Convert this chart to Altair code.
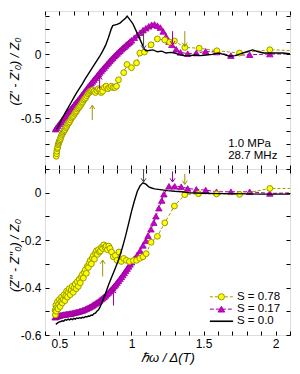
import json
import altair as alt
import pandas as pd

FONT = "Liberation Sans"
OLIVE = "#999900"
YELLOW = "#ffff00"
PURPLE = "#990099"
MAGENTA = "#cc00cc"
ARROW_BLACK = "#444444"

labels = ["S = 0.78", "S = 0.17", "S = 0.0"]

# ---------------- axes / ticks ----------------
X_DOMAIN = [0.4, 2.1]
TOP_DOMAIN = [-0.9, 0.34]
BOT_DOMAIN = [-0.6, 0.1]
x_ticks = [0.4, 0.5, 0.6, 0.7, 0.8, 0.9, 1.0, 1.1, 1.2, 1.3, 1.4, 1.5, 1.6, 1.7, 1.8, 1.9, 2.0, 2.1]
x_tick_labels = [0.5, 1.0, 1.5, 2.0]
top_y_ticks = [-0.9, -0.8, -0.7, -0.6, -0.5, -0.4, -0.3, -0.2, -0.1, 0.0, 0.1, 0.2, 0.3]
top_y_labels = [0.0, -0.5]
bot_y_ticks = [-0.6, -0.5, -0.4, -0.3, -0.2, -0.1, 0.0, 0.1]
bot_y_labels = [0.0, -0.2, -0.4, -0.6]

# ---------------- top panel: (Z' - Z'0)/Z0 ----------------
top78_x = [0.478, 0.480, 0.482, 0.485, 0.488, 0.491, 0.494, 0.497, 0.500, 0.504, 0.508, 0.512, 0.517, 0.522,
           0.527, 0.533, 0.539, 0.545, 0.551, 0.557, 0.563, 0.570, 0.577, 0.584, 0.591, 0.598, 0.605, 0.612,
           0.619, 0.626, 0.633, 0.640, 0.647, 0.654, 0.661, 0.668, 0.675, 0.682, 0.690, 0.698, 0.706, 0.714,
           0.722, 0.731, 0.740, 0.750, 0.760, 0.770, 0.780, 0.790, 0.800, 0.812, 0.824, 0.836, 0.848, 0.860,
           0.872, 0.884, 0.896, 0.910, 0.946, 0.969, 1.000, 1.035, 1.058, 1.090, 1.136, 1.180, 1.231, 1.265,
           1.298, 1.370, 1.470, 1.593, 1.750, 1.960, 2.150]
top78_y = [-0.80, -0.78, -0.76, -0.74, -0.73, -0.71, -0.70, -0.69, -0.68, -0.67, -0.66, -0.645, -0.63, -0.62,
           -0.61, -0.60, -0.59, -0.575, -0.565, -0.55, -0.54, -0.53, -0.515, -0.50, -0.49, -0.48, -0.465, -0.455,
           -0.445, -0.43, -0.42, -0.41, -0.40, -0.385, -0.375, -0.36, -0.35, -0.34, -0.325, -0.31, -0.30, -0.29,
           -0.285, -0.28, -0.29, -0.30, -0.285, -0.27, -0.28, -0.30, -0.29, -0.26, -0.25, -0.27, -0.26, -0.25,
           -0.26, -0.26, -0.25, -0.20, -0.144, -0.08, -0.105, -0.067, 0.01, 0.018, 0.075, 0.121, 0.113, 0.095,
           0.105, 0.054, 0.048, 0.028, 0.01, 0.036, 0.028]

top17_x = [0.473, 0.48, 0.49, 0.50, 0.51, 0.52, 0.53, 0.54, 0.55, 0.56, 0.57, 0.58, 0.59, 0.60, 0.61, 0.62,
           0.63, 0.64, 0.65, 0.66, 0.67, 0.68, 0.69, 0.70, 0.71, 0.72, 0.73, 0.74, 0.75, 0.76, 0.77, 0.78, 0.79,
           0.80, 0.81, 0.82, 0.83, 0.84, 0.85, 0.86, 0.87, 0.88, 0.89, 0.90, 0.91, 0.92, 0.93, 0.94, 0.95, 0.96,
           0.97, 0.98, 0.99, 1.00, 1.02, 1.04, 1.06, 1.08, 1.10, 1.12, 1.14, 1.16, 1.18, 1.20, 1.22, 1.24, 1.26,
           1.28, 1.31, 1.34, 1.39, 1.45, 1.515, 1.59, 1.69, 1.82, 1.96, 2.15]
top17_y = [-0.587, -0.575, -0.56, -0.545, -0.53, -0.515, -0.50, -0.485, -0.47, -0.456, -0.442, -0.428, -0.414,
           -0.40, -0.386, -0.372, -0.358, -0.344, -0.329, -0.314, -0.299, -0.284, -0.269, -0.254, -0.240, -0.226,
           -0.212, -0.198, -0.184, -0.17, -0.156, -0.142, -0.129, -0.116, -0.103, -0.09, -0.077, -0.064, -0.051,
           -0.039, -0.027, -0.015, -0.004, 0.007, 0.018, 0.029, 0.04, 0.05, 0.06, 0.07, 0.08, 0.09, 0.10, 0.11,
           0.13, 0.15, 0.17, 0.19, 0.205, 0.22, 0.232, 0.235, 0.225, 0.21, 0.18, 0.14, 0.10, 0.075, 0.04, 0.015,
           0.005, 0.01, 0.023, 0.018, -0.01, -0.003, 0.002, 0.003]

top00_x = [0.48, 0.50, 0.52, 0.54, 0.56, 0.58, 0.60, 0.62, 0.64, 0.66, 0.68, 0.70, 0.72, 0.74, 0.76, 0.78, 0.80,
           0.82, 0.84, 0.86, 0.87, 0.90, 0.92, 0.94, 0.96, 0.97, 0.99, 1.01, 1.03, 1.05, 1.07, 1.09, 1.10, 1.12,
           1.15, 1.18, 1.21, 1.24, 1.27, 1.30, 1.33, 1.36, 1.40, 1.44, 1.48, 1.52, 1.56, 1.60, 1.64, 1.68, 1.72,
           1.76, 1.80, 1.84, 1.88, 1.92, 1.96, 2.00, 2.05, 2.10]
top00_y = [-0.59, -0.55, -0.50, -0.46, -0.42, -0.38, -0.34, -0.30, -0.265, -0.23, -0.19, -0.155, -0.12, -0.085,
           -0.05, -0.015, 0.025, 0.07, 0.13, 0.20, 0.225, 0.235, 0.245, 0.265, 0.285, 0.30, 0.27, 0.24, 0.19,
           0.14, 0.09, 0.04, 0.028, 0.03, 0.035, 0.02, 0.025, 0.01, 0.015, 0.01, 0.0, -0.01, -0.01, -0.005,
           -0.01, -0.005, 0.0, 0.01, 0.0, -0.015, -0.01, 0.005, 0.02, 0.035, 0.02, 0.01, 0.01, 0.01, 0.01, 0.005]

# arrows (x, tail y, tip y, series)
top_arrow_x = [0.728, 0.779, 1.084, 1.285, 1.37]
top_arrow_tail = [-0.515, -0.272, 0.19, 0.182, 0.182]
top_arrow_tip = [-0.40, -0.169, 0.04, 0.075, 0.062]
top_arrow_s = ["S = 0.78", "S = 0.17", "S = 0.0", "S = 0.17", "S = 0.78"]

ann_text = ["1.0 MPa", "28.7 MHz"]
ann_x = [1.671, 1.671]
ann_y = [-0.731, -0.823]

# ---------------- bottom panel: (Z'' - Z''0)/Z0 ----------------
bot78_x = [0.470, 0.472, 0.475, 0.478, 0.482, 0.486, 0.490, 0.495, 0.500, 0.505, 0.510, 0.515, 0.520, 0.526,
           0.532, 0.538, 0.544, 0.550, 0.556, 0.562, 0.568, 0.575, 0.582, 0.589, 0.596, 0.603, 0.610, 0.617,
           0.624, 0.631, 0.638, 0.645, 0.652, 0.659, 0.666, 0.673, 0.680, 0.687, 0.694, 0.701, 0.708, 0.715,
           0.722, 0.729, 0.736, 0.743, 0.750, 0.757, 0.764, 0.771, 0.778, 0.785, 0.792, 0.800, 0.808, 0.816,
           0.824, 0.833, 0.842, 0.851, 0.862, 0.874, 0.888, 0.900, 0.913, 0.930, 0.946, 0.965, 0.985, 1.013,
           1.035, 1.058, 1.080, 1.102, 1.136, 1.180, 1.231, 1.298, 1.370, 1.465, 1.590, 1.750, 1.960, 2.150]
bot78_y = [-0.495, -0.515, -0.475, -0.50, -0.485, -0.46, -0.49, -0.47, -0.45, -0.48, -0.46, -0.44, -0.465,
           -0.45, -0.43, -0.455, -0.435, -0.415, -0.44, -0.42, -0.405, -0.43, -0.41, -0.395, -0.42, -0.40,
           -0.385, -0.405, -0.375, -0.395, -0.365, -0.38, -0.355, -0.345, -0.36, -0.335, -0.325, -0.34, -0.31,
           -0.315, -0.295, -0.285, -0.30, -0.275, -0.265, -0.28, -0.255, -0.245, -0.26, -0.24, -0.25, -0.245,
           -0.23, -0.235, -0.22, -0.23, -0.225, -0.24, -0.225, -0.235, -0.25, -0.27, -0.265, -0.285, -0.25,
           -0.29, -0.277, -0.285, -0.29, -0.286, -0.285, -0.277, -0.27, -0.257, -0.209, -0.184, -0.127, -0.056,
           -0.008, -0.004, -0.005, -0.007, 0.018, 0.018]

bot17_x = [0.47, 0.48, 0.49, 0.50, 0.51, 0.52, 0.53, 0.54, 0.55, 0.56, 0.57, 0.58, 0.59, 0.60, 0.61, 0.62, 0.63,
           0.64, 0.65, 0.66, 0.67, 0.68, 0.69, 0.70, 0.71, 0.72, 0.73, 0.74, 0.75, 0.76, 0.77, 0.78, 0.79, 0.80,
           0.81, 0.82, 0.83, 0.84, 0.85, 0.86, 0.87, 0.88, 0.89, 0.90, 0.91, 0.92, 0.93, 0.94, 0.95, 0.96, 0.97,
           0.98, 0.99, 1.00, 1.02, 1.04, 1.06, 1.08, 1.10, 1.115, 1.135, 1.155, 1.17, 1.19, 1.21, 1.225, 1.26,
           1.30, 1.345, 1.39, 1.45, 1.515, 1.59, 1.69, 1.82, 1.96, 2.15]
bot17_y = [-0.525, -0.522, -0.52, -0.518, -0.516, -0.515, -0.514, -0.513, -0.512, -0.511, -0.51, -0.509,
           -0.508, -0.506, -0.505, -0.503, -0.502, -0.50, -0.498, -0.496, -0.494, -0.491, -0.488, -0.485,
           -0.482, -0.479, -0.475, -0.471, -0.467, -0.463, -0.459, -0.454, -0.449, -0.444, -0.439, -0.433,
           -0.427, -0.421, -0.415, -0.408, -0.401, -0.394, -0.387, -0.379, -0.371, -0.363, -0.355, -0.347,
           -0.338, -0.329, -0.32, -0.311, -0.302, -0.293, -0.278, -0.262, -0.244, -0.222, -0.202, -0.181,
           -0.154, -0.126, -0.099, -0.065, -0.033, -0.006, 0.027, 0.027, 0.025, 0.018, 0.014, 0.011, 0.004,
           0.004, 0.004, -0.003, 0.0]

bot00_x = [0.475, 0.49, 0.50, 0.51, 0.52, 0.53, 0.54, 0.55, 0.56, 0.57, 0.58, 0.59, 0.60, 0.61, 0.62, 0.63, 0.64,
           0.65, 0.66, 0.67, 0.68, 0.69, 0.70, 0.71, 0.72, 0.73, 0.74, 0.75, 0.76, 0.77, 0.78, 0.79, 0.80, 0.82,
           0.84, 0.86, 0.88, 0.90, 0.92, 0.94, 0.96, 0.98, 1.00, 1.02, 1.04, 1.06, 1.08, 1.10, 1.12, 1.14, 1.16,
           1.20, 1.25, 1.30, 1.35, 1.40, 1.50, 1.60, 1.70, 1.80, 1.90, 2.00, 2.10]
bot00_y = [-0.555, -0.548, -0.545, -0.543, -0.54, -0.542, -0.535, -0.538, -0.533, -0.536, -0.532, -0.535, -0.53,
           -0.533, -0.528, -0.53, -0.527, -0.529, -0.525, -0.527, -0.522, -0.524, -0.52, -0.521, -0.516, -0.517,
           -0.51, -0.508, -0.50, -0.495, -0.485, -0.47, -0.455, -0.425, -0.39, -0.36, -0.33, -0.30, -0.265,
           -0.225, -0.18, -0.13, -0.08, -0.035, 0.005, 0.03, 0.042, 0.036, 0.025, 0.02, 0.016, 0.013, 0.009,
           0.006, 0.004, 0.0, -0.002, -0.004, -0.004, -0.005, -0.006, -0.006, -0.006]

bot_arrow_x = [0.80, 0.875, 1.084, 1.285, 1.37]
bot_arrow_tail = [-0.353, -0.476, 0.10, 0.09, 0.08]
bot_arrow_tip = [-0.284, -0.408, 0.045, 0.045, 0.035]
bot_arrow_s = ["S = 0.78", "S = 0.17", "S = 0.0", "S = 0.17", "S = 0.78"]

# legend block (in bottom-panel data coordinates)
leg_line_x0 = 1.544
leg_line_x1 = 1.705
leg_mark_x = 1.624
leg_text_x = 1.732
leg_y = [-0.439, -0.491, -0.542]

HEAD = "M-1,1.5L0,0L1,1.5"


def lab_expr(vals, signed=False):
    arr = json.dumps(vals)
    if signed:
        txt = "(datum.value < 0 ? '-' : '') + format(abs(datum.value), '~g')"
    else:
        txt = "format(datum.value, '~g')"
    return f"indexof({arr}, datum.value) >= 0 ? {txt} : ''"


def tick_axis(orient, values, **kw):
    return alt.Axis(orient=orient, values=values, tickSize=4, offset=-4, domain=False, grid=False,
                    tickColor="black", tickWidth=1, labelOverlap=False, labelFlush=False, **kw)


def make_panel(s78x, s78y, s17x, s17y, s00x, s00y, ydom, yticks, ylabels, ytitle, title_y,
               ax, atail, atip, aser, height, bottom, ann=None, legend=False):
    xs = alt.Scale(domain=X_DOMAIN, nice=False, zero=False)
    ys = alt.Scale(domain=ydom, nice=False, zero=False)
    ynone = alt.Y("y:Q", scale=ys, axis=None)
    xnone = alt.X("x:Q", scale=xs, axis=None)

    if bottom:
        xaxis = tick_axis("bottom", x_ticks, labels=True, labelExpr=lab_expr(x_tick_labels),
                          labelFont=FONT, labelFontSize=12, labelColor="black", labelPadding=3,
                          title="ℏω / Δ(T)", titleFont=FONT, titleFontSize=13, titleFontStyle="italic",
                          titleFontWeight="normal", titleColor="black", titlePadding=2)
    else:
        xaxis = tick_axis("bottom", x_ticks, labels=False, title=None)
    yaxis = tick_axis("left", yticks, labels=True, labelExpr=lab_expr(ylabels, signed=True),
                      labelFont=FONT, labelFontSize=12, labelColor="black", labelPadding=4,
                      title=ytitle, titleFont=FONT, titleFontSize=12.5, titleFontWeight="normal",
                      titleFontStyle="italic", titleColor="black", titleAngle=270, titleAlign="center",
                      titleBaseline="middle", titleX=-34.5, titleY=title_y)

    d78 = pd.DataFrame({"x": s78x, "y": s78y})
    d17 = pd.DataFrame({"x": s17x, "y": s17y})
    d00 = pd.DataFrame({"x": s00x, "y": s00y})
    darr = pd.DataFrame({"x": ax, "y0": atail, "y1": atip, "S": aser,
                         "ang": [0 if t > s else 180 for s, t in zip(atail, atip)]})
    acol = alt.Color("S:N", scale=alt.Scale(domain=labels, range=[OLIVE, PURPLE, ARROW_BLACK]), legend=None)

    layers = [
        alt.Chart(d17).mark_line(color=PURPLE, strokeDash=[4, 2], strokeWidth=1, clip=True).encode(
            x=alt.X("x:Q", scale=xs, axis=xaxis), y=alt.Y("y:Q", scale=ys, axis=yaxis)),
        alt.Chart(d17).mark_point(shape="triangle-up", filled=True, fill=MAGENTA, stroke=PURPLE,
                                  strokeWidth=0.8, size=42, opacity=1, clip=True).encode(x=xnone, y=ynone),
        alt.Chart(d78).mark_line(color=OLIVE, strokeDash=[3, 2], strokeWidth=1, clip=True).encode(
            x=xnone, y=ynone),
        alt.Chart(d78).mark_point(shape="circle", filled=True, fill=YELLOW, stroke=OLIVE,
                                  strokeWidth=1, size=34, opacity=1, clip=True).encode(x=xnone, y=ynone),
        alt.Chart(d00).mark_line(color="black", strokeWidth=1.4, clip=True).encode(
            x=alt.X("x:Q", scale=xs, axis=tick_axis("top", x_ticks, labels=False, title=None)),
            y=alt.Y("y:Q", scale=ys, axis=tick_axis("right", yticks, labels=False, title=None))),
        alt.Chart(darr).mark_rule(strokeWidth=1).encode(
            x=xnone, y=alt.Y("y0:Q", scale=ys, axis=None), y2="y1:Q", color=acol),
        alt.Chart(darr).mark_point(shape=HEAD, size=25, strokeWidth=1, filled=False, opacity=1).encode(
            x=xnone, y=alt.Y("y1:Q", scale=ys, axis=None), color=acol,
            angle=alt.Angle("ang:Q", scale=None)),
    ]
    if ann is not None:
        dann = pd.DataFrame({"x": ann[0], "y": ann[1], "t": ann[2]})
        layers.append(alt.Chart(dann).mark_text(align="left", baseline="alphabetic", font=FONT,
                                                fontSize=11.5, color="black").encode(
            x=xnone, y=ynone, text="t:N"))
    if legend:
        dl = pd.DataFrame({"S": labels, "x0": [leg_line_x0] * 3, "x1": [leg_line_x1] * 3,
                           "xm": [leg_mark_x] * 3, "xt": [leg_text_x] * 3, "y": leg_y})
        xl = alt.X("x0:Q", scale=xs, axis=None)
        layers += [
            alt.Chart(dl.iloc[[0]]).mark_rule(color=OLIVE, strokeDash=[3, 2], strokeWidth=1).encode(
                x=xl, x2="x1:Q", y=ynone),
            alt.Chart(dl.iloc[[1]]).mark_rule(color=PURPLE, strokeDash=[4, 2], strokeWidth=1).encode(
                x=xl, x2="x1:Q", y=ynone),
            alt.Chart(dl.iloc[[2]]).mark_rule(color="black", strokeWidth=1.6).encode(
                x=xl, x2="x1:Q", y=ynone),
            alt.Chart(dl.iloc[[0]]).mark_point(shape="circle", filled=True, fill=YELLOW, stroke=OLIVE,
                                               strokeWidth=1, size=38, opacity=1).encode(
                x=alt.X("xm:Q", scale=xs, axis=None), y=ynone),
            alt.Chart(dl.iloc[[1]]).mark_point(shape="triangle-up", filled=True, fill=MAGENTA, stroke=PURPLE,
                                               strokeWidth=0.8, size=46, opacity=1).encode(
                x=alt.X("xm:Q", scale=xs, axis=None), y=ynone),
            alt.Chart(dl).mark_text(align="left", baseline="middle", font=FONT, fontSize=11.5,
                                    color="black").encode(
                x=alt.X("xt:Q", scale=xs, axis=None), y=ynone, text="S:N"),
        ]
    return alt.layer(*layers).resolve_axis(x="independent", y="independent").properties(
        width=245, height=height)


top = make_panel(top78_x, top78_y, top17_x, top17_y, top00_x, top00_y, TOP_DOMAIN, top_y_ticks, top_y_labels,
                 "(Z' - Z'₀) / Z₀", 60, top_arrow_x, top_arrow_tail, top_arrow_tip, top_arrow_s,
                 158, False, ann=(ann_x, ann_y, ann_text))
bottom = make_panel(bot78_x, bot78_y, bot17_x, bot17_y, bot00_x, bot00_y, BOT_DOMAIN, bot_y_ticks, bot_y_labels,
                    "(Z'' - Z''₀) / Z₀", 86, bot_arrow_x, bot_arrow_tail, bot_arrow_tip, bot_arrow_s,
                    166, True, legend=True)

chart = alt.vconcat(top, bottom, spacing=0, bounds="flush").configure_view(
    stroke="black", strokeWidth=1).configure(font=FONT).properties(
    padding={"left": 0, "top": 1, "right": 0, "bottom": 0}, background="white")

chart.save("out.html", embed_options={"renderer": "svg", "actions": False})
